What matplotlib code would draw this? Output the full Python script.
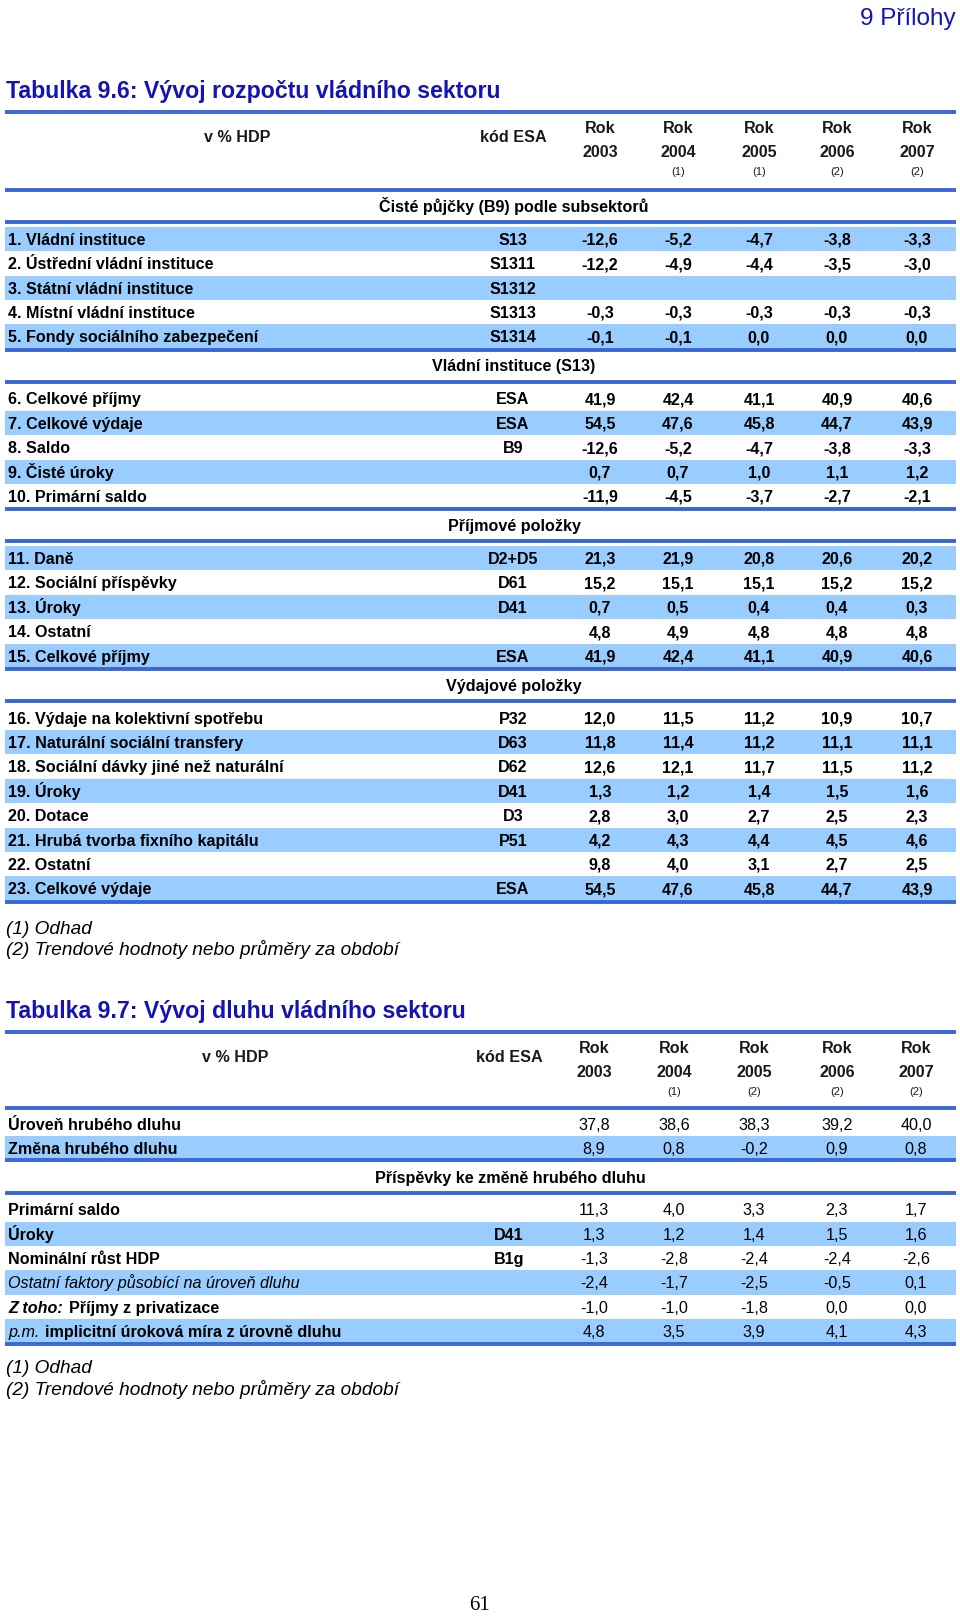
import matplotlib
matplotlib.use('Agg')
import matplotlib.pyplot as plt

plt.rcParams['font.family'] = ['Liberation Sans', 'DejaVu Sans']

# --- data: Tabulka 9.6 ---
years = ['2003', '2004', '2005', '2006', '2007']
notes_96 = ['', '(1)', '(1)', '(2)', '(2)']
notes_97 = ['', '(1)', '(2)', '(2)', '(2)']

sections_96 = ['Čisté půjčky (B9) podle subsektorů', 'Vládní instituce (S13)',
               'Příjmové položky', 'Výdajové položky']

labels_s1 = ['1. Vládní instituce', '2. Ústřední vládní instituce', '3. Státní vládní instituce',
             '4. Místní vládní instituce', '5. Fondy sociálního zabezpečení']
codes_s1 = ['S13', 'S1311', 'S1312', 'S1313', 'S1314']
values_s1 = [[-12.6, -5.2, -4.7, -3.8, -3.3],
             [-12.2, -4.9, -4.4, -3.5, -3.0],
             None,
             [-0.3, -0.3, -0.3, -0.3, -0.3],
             [-0.1, -0.1, 0.0, 0.0, 0.0]]

labels_s2 = ['6. Celkové příjmy', '7. Celkové výdaje', '8. Saldo', '9. Čisté úroky', '10. Primární saldo']
codes_s2 = ['ESA', 'ESA', 'B9', '', '']
values_s2 = [[41.9, 42.4, 41.1, 40.9, 40.6],
             [54.5, 47.6, 45.8, 44.7, 43.9],
             [-12.6, -5.2, -4.7, -3.8, -3.3],
             [0.7, 0.7, 1.0, 1.1, 1.2],
             [-11.9, -4.5, -3.7, -2.7, -2.1]]

labels_s3 = ['11. Daně', '12. Sociální příspěvky', '13. Úroky', '14. Ostatní', '15. Celkové příjmy']
codes_s3 = ['D2+D5', 'D61', 'D41', '', 'ESA']
values_s3 = [[21.3, 21.9, 20.8, 20.6, 20.2],
             [15.2, 15.1, 15.1, 15.2, 15.2],
             [0.7, 0.5, 0.4, 0.4, 0.3],
             [4.8, 4.9, 4.8, 4.8, 4.8],
             [41.9, 42.4, 41.1, 40.9, 40.6]]

labels_s4 = ['16. Výdaje na kolektivní spotřebu', '17. Naturální sociální transfery',
             '18. Sociální dávky jiné než naturální', '19. Úroky', '20. Dotace',
             '21. Hrubá tvorba fixního kapitálu', '22. Ostatní', '23. Celkové výdaje']
codes_s4 = ['P32', 'D63', 'D62', 'D41', 'D3', 'P51', '', 'ESA']
values_s4 = [[12.0, 11.5, 11.2, 10.9, 10.7],
             [11.8, 11.4, 11.2, 11.1, 11.1],
             [12.6, 12.1, 11.7, 11.5, 11.2],
             [1.3, 1.2, 1.4, 1.5, 1.6],
             [2.8, 3.0, 2.7, 2.5, 2.3],
             [4.2, 4.3, 4.4, 4.5, 4.6],
             [9.8, 4.0, 3.1, 2.7, 2.5],
             [54.5, 47.6, 45.8, 44.7, 43.9]]

# shaded rows (row index within section)
shade_s1 = [0, 2, 4]
shade_s2 = [1, 3]
shade_s3 = [0, 2, 4]
shade_s4 = [1, 3, 5, 7]

# --- data: Tabulka 9.7 ---
labels_d1 = ['Úroveň hrubého dluhu', 'Změna hrubého dluhu']
codes_d1 = ['', '']
values_d1 = [[37.8, 38.6, 38.3, 39.2, 40.0],
             [8.9, 0.8, -0.2, 0.9, 0.8]]
shade_d1 = [1]

section_97 = 'Příspěvky ke změně hrubého dluhu'
# label parts: (italic prefix, bold text)
labels_d2 = [('', 'Primární saldo'), ('', 'Úroky'), ('', 'Nominální růst HDP'),
             ('Ostatní faktory působící na úroveň dluhu', ''),
             ('Z toho:', 'Příjmy z privatizace'),
             ('p.m.', 'implicitní úroková míra z úrovně dluhu')]
codes_d2 = ['', 'D41', 'B1g', '', '', '']
values_d2 = [[11.3, 4.0, 3.3, 2.3, 1.7],
             [1.3, 1.2, 1.4, 1.5, 1.6],
             [-1.3, -2.8, -2.4, -2.4, -2.6],
             [-2.4, -1.7, -2.5, -0.5, 0.1],
             [-1.0, -1.0, -1.8, 0.0, 0.0],
             [4.8, 3.5, 3.9, 4.1, 4.3]]
shade_d2 = [1, 3, 5]

footnotes = ['(1) Odhad', '(2) Trendové hodnoty nebo průměry za období']

# --- styling ---
BLUE_TITLE = '#1414B4'
RULE = '#3A66D6'
SHADE = '#99CCFF'
FS = 11.6
PITCH = 24.4
X0, X1 = 5, 956

fig = plt.figure(figsize=(9.6, 16.16), dpi=100)
ax = fig.add_axes([0, 0, 1, 1])
ax.set_xlim(0, 960)
ax.set_ylim(1616, 0)
ax.axis('off')


def cap(size):
    return 0.716 * size * 100 / 72 / 2


def txt(x, y, s, size=FS, weight='bold', ha='left', style='normal', color='black'):
    return ax.text(x, y + cap(size), s, fontsize=size, fontweight=weight, ha=ha,
                   va='baseline', style=style, color=color)


def rule(y):
    ax.hlines(y, X0, X1, colors=RULE, linewidth=2.8)


def fmt(v):
    return f'{v:.1f}'.replace('.', ',')


def header(y_rule, code_x, year_x, notes, hdp_x):
    txt(hdp_x, y_rule + 24, 'v % HDP', ha='center', color='#1a1a1a')
    txt(code_x, y_rule + 24, 'kód ESA', ha='center', color='#1a1a1a')
    for x, yr, n in zip(year_x, years, notes):
        txt(x, y_rule + 15, 'Rok', ha='center', color='#1a1a1a')
        txt(x, y_rule + 39, yr, ha='center', color='#1a1a1a')
        if n:
            txt(x, y_rule + 59, n, size=8, weight='normal', ha='center', color='#1a1a1a')


def rows(y_start, labels, codes, values, shaded, code_x, year_x, val_weight='bold'):
    centers = [y_start + i * PITCH for i in range(len(labels))]
    ax.barh([centers[i] for i in shaded], X1 - X0, left=X0, height=PITCH,
            color=SHADE, zorder=0)
    for c, lab, code, vals in zip(centers, labels, codes, values):
        if isinstance(lab, tuple):
            pre, main = lab
            x = 8
            if pre:
                t = txt(x, c, pre, weight='bold' if main and pre.startswith('Z') else 'normal',
                        style='italic')
                fig.canvas.draw()
                bb = t.get_window_extent().transformed(ax.transData.inverted())
                x = bb.x1 + 6
            if main:
                txt(x, c, main)
        else:
            txt(8, c, lab)
        if code:
            txt(code_x, c, code, ha='center')
        if vals:
            for x, v in zip(year_x, vals):
                txt(x, c, fmt(v), ha='center', weight=val_weight)
    return centers[-1]


# page header
txt(956, 16, '9 Přílohy', size=17.5, weight='normal', ha='right', color=BLUE_TITLE)

# ---------- Tabulka 9.6 ----------
txt(6, 90, 'Tabulka 9.6: Vývoj rozpočtu vládního sektoru', size=16.7, color=BLUE_TITLE)
code96 = 513
years96 = [600, 678, 759, 837, 917]
r = 112
rule(r)
header(r, code96, years96, notes_96, 237)
r = 190
rule(r)
sec_data = [(labels_s1, codes_s1, values_s1, shade_s1),
            (labels_s2, codes_s2, values_s2, shade_s2),
            (labels_s3, codes_s3, values_s3, shade_s3),
            (labels_s4, codes_s4, values_s4, shade_s4)]
for title, (labs, cods, vals, sh) in zip(sections_96, sec_data):
    txt(514, r + 16, title, ha='center')
    r += 32
    rule(r)
    last = rows(r + 17, labs, cods, vals, sh, code96, years96)
    r = last + 13
    rule(r)

txt(6, 927, footnotes[0], size=13.7, weight='normal', style='italic')
txt(6, 948, footnotes[1], size=13.7, weight='normal', style='italic')

# ---------- Tabulka 9.7 ----------
txt(6, 1010, 'Tabulka 9.7: Vývoj dluhu vládního sektoru', size=16.7, color=BLUE_TITLE)
code97 = 509
years97 = [594, 674, 754, 837, 916]
r = 1032
rule(r)
header(r, code97, years97, notes_97, 235)
r = 1108
rule(r)
last = rows(r + 16, labels_d1, codes_d1, values_d1, shade_d1, code97, years97, val_weight='normal')
r = last + 12
rule(r)
txt(510, r + 17, section_97, ha='center')
r += 33
rule(r)
last = rows(r + 16, labels_d2, codes_d2, values_d2, shade_d2, code97, years97, val_weight='normal')
rule(last + 13)

txt(6, 1366, footnotes[0], size=13.7, weight='normal', style='italic')
txt(6, 1388, footnotes[1], size=13.7, weight='normal', style='italic')

ax.text(479, 1605, '61', fontsize=15, family='Liberation Serif', ha='center', va='center')

fig.savefig('out.png', dpi=100)
